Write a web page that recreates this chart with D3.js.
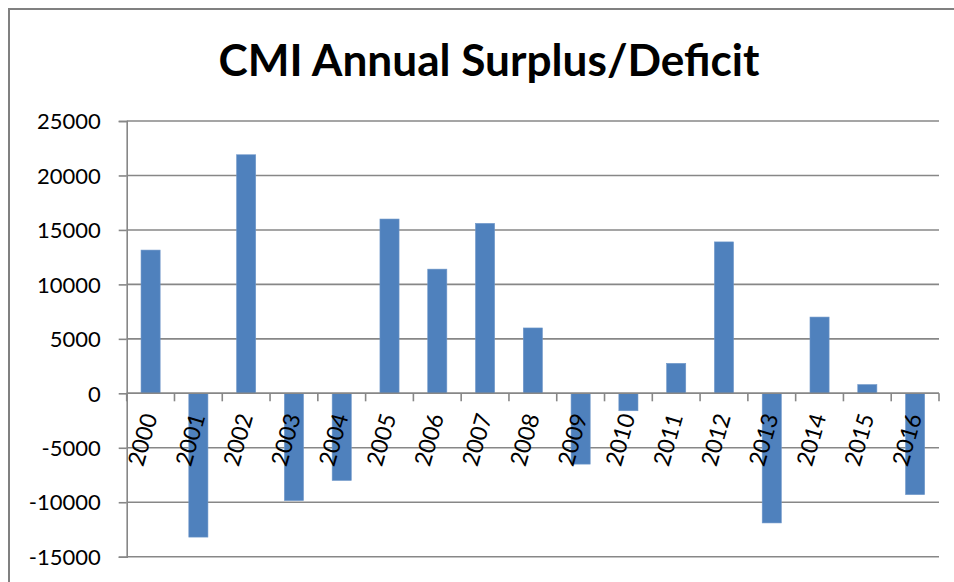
<!DOCTYPE html>
<html>
<head>
<meta charset="utf-8">
<script src="https://cdn.jsdelivr.net/npm/d3@7"></script>
<style>
  html, body { margin: 0; padding: 0; background: #fff; }
  svg { display: block; }
</style>
</head>
<body>
<svg id="chart" width="954" height="582"></svg>
<script>
const title = "CMI Annual Surplus/Deficit";
const years = ["2000","2001","2002","2003","2004","2005","2006","2007","2008",
               "2009","2010","2011","2012","2013","2014","2015","2016"];
const values = [13150, -13200, 21900, -9850, -8000, 16000, 11400, 15600, 6000,
                -6500, -1600, 2750, 13900, -11900, 7000, 800, -9300];
const yTicks = [-15000, -10000, -5000, 0, 5000, 10000, 15000, 20000, 25000];

(function () {
const svg = d3.select("#chart");
const plotL = 126.7, plotR = 939, plotT = 121, plotB = 556.7;
const grid = "#878787";
const font = "Lato, 'Open Sans', sans-serif";

// chart frame
svg.append("path")
  .attr("d", "M9,582 L9,9 L954,9")
  .attr("fill", "none").attr("stroke", "#808080").attr("stroke-width", 2);

// title
svg.append("text")
  .attr("x", 489).attr("y", 76)
  .attr("text-anchor", "middle")
  .attr("font-family", font).attr("font-weight", "bold")
  .attr("font-size", 44)
  .attr("textLength", 541).attr("lengthAdjust", "spacingAndGlyphs")
  .attr("fill", "#000")
  .text(title);

const x = d3.scaleBand().domain(years).range([plotL, plotR]).paddingInner(0).paddingOuter(0);
const y = d3.scaleLinear().domain([-15000, 25000]).range([plotB, plotT]);

// gridlines
svg.append("g").selectAll("line").data(yTicks).join("line")
  .attr("x1", plotL).attr("x2", plotR)
  .attr("y1", d => y(d)).attr("y2", d => y(d))
  .attr("stroke", grid).attr("stroke-width", 1.6);

// y axis
const yAxis = svg.append("g").attr("transform", `translate(${plotL},0)`)
  .call(d3.axisLeft(y).tickValues(yTicks).tickSize(8).tickPadding(18).tickFormat(d => String(d)));
yAxis.select(".domain").attr("stroke", grid).attr("stroke-width", 1.6);
yAxis.selectAll(".tick line").attr("stroke", grid).attr("stroke-width", 1.6);
yAxis.selectAll(".tick text")
  .attr("font-family", font).attr("font-size", 22).attr("fill", "#000")
  .attr("dy", "0.35em");

// bars
const bw = x.bandwidth() / 2.5;
svg.append("g").selectAll("rect").data(values).join("rect")
  .attr("x", (d, i) => x(years[i]) + (x.bandwidth() - bw) / 2)
  .attr("width", bw)
  .attr("y", d => y(Math.max(0, d)))
  .attr("height", d => Math.abs(y(d) - y(0)))
  .attr("fill", "#4f81bd")
  .attr("stroke", "#6f97c9").attr("stroke-width", 0.6);

// x axis at zero
const xAxisG = svg.append("g");
xAxisG.append("line")
  .attr("x1", plotL).attr("x2", plotR)
  .attr("y1", y(0)).attr("y2", y(0))
  .attr("stroke", grid).attr("stroke-width", 1.6);
const boundaries = years.map(d => x(d)).concat([plotR]);
xAxisG.selectAll("line.tk").data(boundaries).join("line").attr("class", "tk")
  .attr("x1", d => d).attr("x2", d => d)
  .attr("y1", y(0)).attr("y2", y(0) + 8)
  .attr("stroke", grid).attr("stroke-width", 1.6);

xAxisG.selectAll("text").data(years).join("text")
  .attr("transform", d => `translate(${x(d) + x.bandwidth() / 2 + 7},${y(0) + 23}) rotate(-74)`)
  .attr("text-anchor", "end")
  .attr("font-family", font).attr("font-size", 23).attr("fill", "#000")
  .text(d => d);
})();
</script>
</body>
</html>
